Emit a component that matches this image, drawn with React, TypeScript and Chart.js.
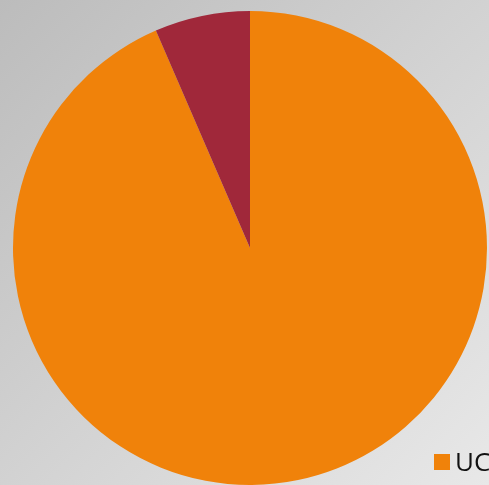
import React, { useEffect, useRef } from "react";
import { Chart, registerables } from "chart.js";

Chart.register(...registerables);

const labels = ["UC", "Other"];
const values = [93.5, 6.5];
const colors = ["#F0820A", "#A0283A"];

const legendPlugin = {
  id: "cornerLegend",
  afterDraw(chart: any) {
    const ctx = chart.ctx;
    ctx.save();
    ctx.font = "26px 'Open Sans', Lato, sans-serif";
    ctx.textBaseline = "alphabetic";
    ctx.textAlign = "left";
    labels.forEach((lab, i) => {
      const y = 454 + i * 34;
      ctx.fillStyle = colors[i];
      ctx.fillRect(434, y, 16, 16);
      ctx.fillStyle = "#111111";
      ctx.fillText(lab, 455, y + 17);
    });
    ctx.restore();
  },
};

export default function App() {
  const ref = useRef<HTMLCanvasElement | null>(null);
  useEffect(() => {
    if (!ref.current) return;
    const chart = new Chart(ref.current, {
      type: "pie",
      data: {
        labels,
        datasets: [
          {
            data: values,
            backgroundColor: colors,
            borderWidth: 0,
          },
        ],
      },
      options: {
        responsive: false,
        animation: false,
        layout: { padding: { left: 12, right: 1, top: 11, bottom: -2 } },
        plugins: {
          legend: { display: false },
          tooltip: { enabled: false },
        },
      },
      plugins: [legendPlugin],
    });
    return () => chart.destroy();
  }, []);
  return (
    <div
      style={{
        position: "fixed",
        left: 0,
        top: 0,
        width: 489,
        height: 485,
        overflow: "hidden",
        background: "linear-gradient(135deg, #bcbcbc 0%, #d2d2d2 50%, #e8e8e8 100%)",
      }}
    >
      <canvas ref={ref} width={489} height={485} style={{ display: "block" }} />
    </div>
  );
}
